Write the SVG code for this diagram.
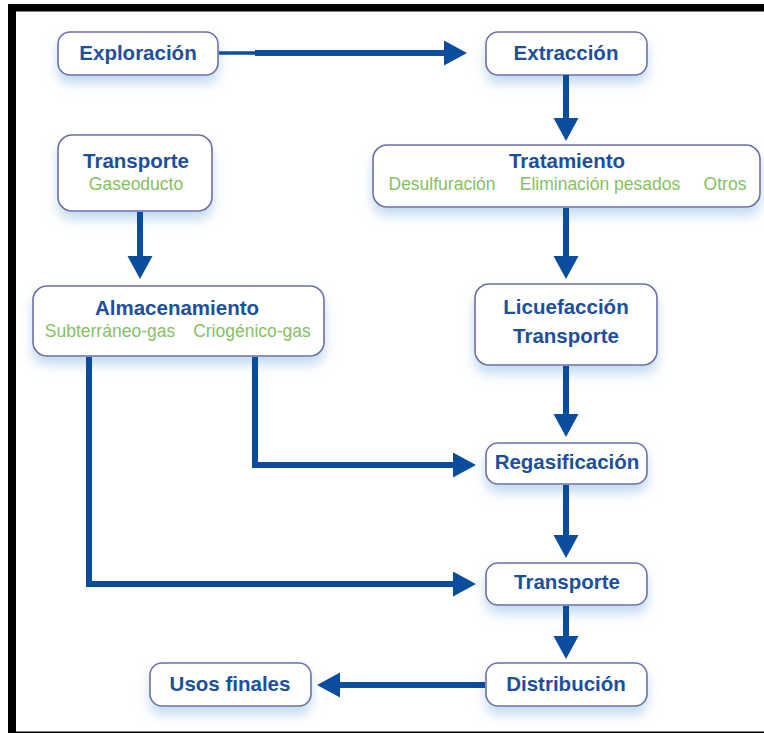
<svg xmlns="http://www.w3.org/2000/svg" width="764" height="733" viewBox="0 0 764 733">
<defs>
<filter id="glow" x="-20%" y="-30%" width="140%" height="190%">
<feGaussianBlur in="SourceAlpha" stdDeviation="6"/>
<feOffset dx="0" dy="8" result="b"/>
<feFlood flood-color="#9cc3e6" flood-opacity="0.6"/>
<feComposite in2="b" operator="in" result="s"/>
<feMerge><feMergeNode in="s"/><feMergeNode in="SourceGraphic"/></feMerge>
</filter>
<marker id="ah" markerUnits="userSpaceOnUse" markerWidth="24" markerHeight="26" refX="1" refY="12.5" orient="auto">
<path d="M0,0 L23,12.5 L0,25 z" fill="#0a4c9d"/>
</marker>
<style>
.box{fill:#ffffff;stroke:#6e6ea8;stroke-width:1.6;filter:url(#glow)}
.t{font-family:"Liberation Sans",Arial,sans-serif;font-weight:bold;font-size:20.5px;fill:#1d4f9b;text-anchor:middle}
.s{font-family:"Liberation Sans",Arial,sans-serif;font-size:17.5px;fill:#86bf62;text-anchor:middle}
.c{fill:none;stroke:#0a4c9d;stroke-width:6}
</style>
</defs>
<rect x="0" y="0" width="764" height="733" fill="#ffffff"/>
<g id="frame" fill="#000000">
<rect x="8" y="4" width="756" height="7.5"/>
<rect x="8" y="4" width="8" height="729"/>
<rect x="8" y="731.5" width="756" height="1.5"/>
</g>
<g id="exploracion">
<rect class="box" x="58" y="32" width="160" height="43" rx="12"/>
<text class="t" x="138" y="60">Exploración</text>
</g>
<g id="extraccion">
<rect class="box" x="486" y="32" width="161" height="43" rx="12"/>
<text class="t" x="566" y="60">Extracción</text>
</g>
<g id="transporte-gaseoducto">
<rect class="box" x="58" y="135" width="154" height="76" rx="14"/>
<text class="t" x="136" y="168">Transporte</text>
<text class="s" x="136" y="190">Gaseoducto</text>
</g>
<g id="tratamiento">
<rect class="box" x="373" y="145" width="387" height="62" rx="14"/>
<text class="t" x="567" y="168">Tratamiento</text>
<text class="s" x="442" y="190">Desulfuración</text>
<text class="s" x="600" y="190">Eliminación pesados</text>
<text class="s" x="725" y="190">Otros</text>
</g>
<g id="almacenamiento">
<rect class="box" x="33" y="286" width="291" height="70" rx="14"/>
<text class="t" x="177" y="315">Almacenamiento</text>
<text class="s" x="110" y="337">Subterráneo-gas</text>
<text class="s" x="252" y="337">Criogénico-gas</text>
</g>
<g id="licuefaccion">
<rect class="box" x="475" y="284" width="182" height="81" rx="14"/>
<text class="t" x="566" y="314">Licuefacción</text>
<text class="t" x="566" y="343">Transporte</text>
</g>
<g id="regasificacion">
<rect class="box" x="486" y="443" width="161" height="41" rx="12"/>
<text class="t" x="567" y="469">Regasificación</text>
</g>
<g id="transporte">
<rect class="box" x="486" y="563" width="161" height="42" rx="12"/>
<text class="t" x="567" y="589">Transporte</text>
</g>
<g id="distribucion">
<rect class="box" x="486" y="663" width="161" height="43" rx="12"/>
<text class="t" x="566" y="691">Distribución</text>
</g>
<g id="usos-finales">
<rect class="box" x="150" y="663" width="161" height="43" rx="12"/>
<text class="t" x="230" y="691">Usos finales</text>
</g>
<g id="connectors">
<line x1="219" y1="53" x2="257" y2="53" stroke="#0a4c9d" stroke-width="3.5"/>
<path class="c" d="M255,53 H445" marker-end="url(#ah)"/>
<path class="c" d="M566,75 V119" marker-end="url(#ah)"/>
<path class="c" d="M566,208 V257" marker-end="url(#ah)"/>
<path class="c" d="M566,366 V415" marker-end="url(#ah)"/>
<path class="c" d="M566,485 V536" marker-end="url(#ah)"/>
<path class="c" d="M566,606 V637" marker-end="url(#ah)"/>
<path class="c" d="M485,685 H339" marker-end="url(#ah)"/>
<path class="c" d="M140,212 V257" marker-end="url(#ah)"/>
<path class="c" d="M255,357 V465 H454" marker-end="url(#ah)"/>
<path class="c" d="M89,357 V584 H454" marker-end="url(#ah)"/>
</g>
</svg>
